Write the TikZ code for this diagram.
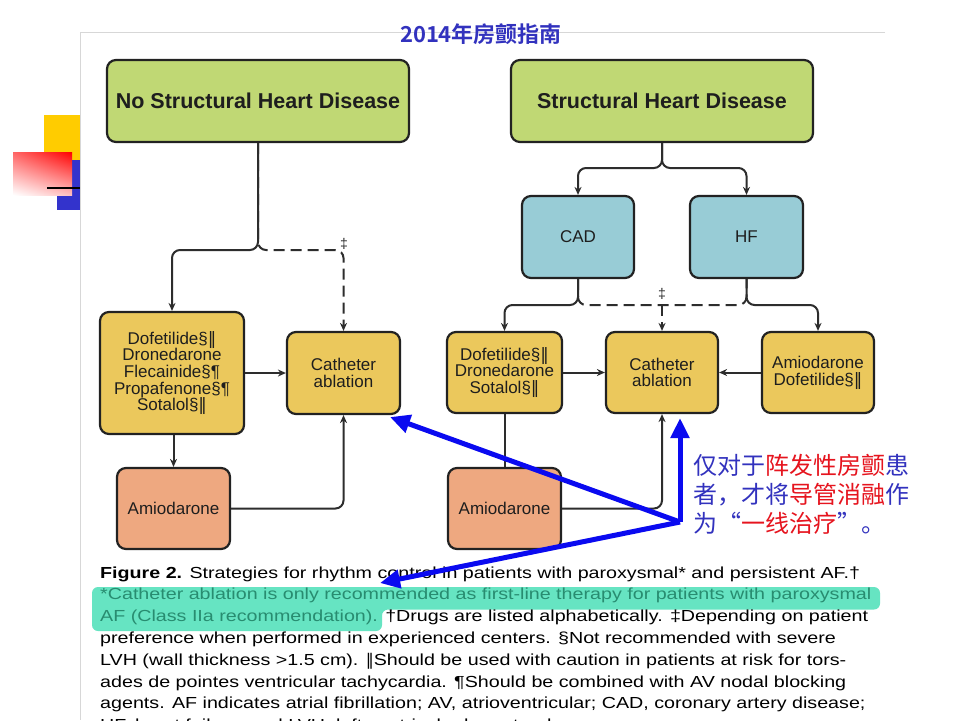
\documentclass[tikz,border=0pt]{standalone}
\usepackage{fontspec}
\setmainfont{Liberation Sans}
\newfontfamily\cjk{Noto Sans CJK SC}[BoldFont={Noto Sans CJK SC Bold}]
\newfontfamily\capfont{Liberation Sans}[FakeStretch=1.23]
\newfontfamily\dv{DejaVu Sans}
\usetikzlibrary{arrows.meta,shadings}
\definecolor{hdgreen}{RGB}{192,216,116}
\definecolor{cyanbox}{RGB}{152,204,214}
\definecolor{yelbox}{RGB}{235,200,92}
\definecolor{salbox}{RGB}{238,168,128}
\definecolor{boxline}{RGB}{34,34,34}
\definecolor{connc}{RGB}{45,45,45}
\definecolor{textdark}{RGB}{30,30,30}
\definecolor{titleblue}{RGB}{50,50,190}
\definecolor{cnred}{RGB}{230,20,30}
\definecolor{arrblue}{RGB}{10,10,240}
\definecolor{mint}{RGB}{102,228,194}
\definecolor{tealtext}{RGB}{40,140,112}
\definecolor{framegray}{RGB}{215,215,215}
\definecolor{decoyellow}{RGB}{255,204,0}
\definecolor{decoblue}{RGB}{51,51,204}
\newcommand{\dbar}{{\dv ‖}}
\begin{document}
\begin{tikzpicture}[x=1pt,y=-1pt,
  box/.style={draw=boxline, line width=2.2pt, rounded corners=9pt, align=center,
    inner sep=0pt, text=textdark, font=\fontsize{17}{16.7}\selectfont},
  hdbox/.style={box, fill=hdgreen, minimum width=302pt, minimum height=82pt,
    font=\bfseries\fontsize{21.5}{24}\selectfont},
  cybox/.style={box, fill=cyanbox, minimum width=112pt, minimum height=82pt},
  ybox/.style={box, fill=yelbox, minimum width=113pt, minimum height=81pt},
  sbox/.style={box, fill=salbox, minimum width=113pt, minimum height=81pt},
  conn/.style={draw=connc, line width=2pt, rounded corners=8pt},
  arr/.style={-{Stealth[length=8pt,width=7pt]}},
  dsh/.style={dash pattern=on 11pt off 6pt},
  bluearr/.style={draw=arrblue, line width=5pt, -{Triangle[length=20pt,width=18pt]}},
  capline/.style={anchor=base west, inner sep=0pt, text=black, font=\capfont\fontsize{16}{21}\selectfont},
  cnline/.style={anchor=base west, inner sep=0pt, text=titleblue, font=\cjk\fontsize{24}{28}\selectfont}
]
\useasboundingbox (0,0) rectangle (960,720);
\clip (0,0) rectangle (960,720);
\fill[white] (0,0) rectangle (960,720);
% decorative squares
\fill[decoyellow] (44,115) rectangle (80,160);
\fill[decoblue] (57,160) rectangle (80,210);
\shade[upper left=red!60, upper right=red, lower left=white, lower right=red!25] (13,152) rectangle (72,195);
\draw[black, line width=2pt] (47,188) -- (80,188);
% panel
\fill[white] (80,32) rectangle (960,720);
\draw[framegray, line width=1pt] (885,32) -- (80,32) -- (80,720);
% title
\node[anchor=base, inner sep=0pt, text=titleblue, font=\cjk\bfseries\fontsize{22}{24}\selectfont] (title) at (481,42) {2014年房颤指南};
% boxes
\node[hdbox] (nshd) at (258,101) {No Structural Heart Disease};
\node[hdbox] (shd) at (662,101) {Structural Heart Disease};
\node[cybox] (cad) at (578,237) {CAD};
\node[cybox, minimum width=113pt] (hf) at (746.5,237) {HF};
\node[ybox, minimum width=144pt, minimum height=122pt] (dof1) at (172,373) {Dofetilide§\dbar\\Dronedarone\\Flecainide§¶\\Propafenone§¶\\Sotalol§\dbar};
\node[ybox, minimum height=82pt] (cath1) at (343.5,373) {Catheter\\ablation};
\node[sbox] (amio1) at (173.5,508.5) {Amiodarone};
\node[ybox, minimum width=115pt] (dof2) at (504.5,372.5) {Dofetilide§\dbar\\Dronedarone\\Sotalol§\dbar};
\node[ybox, minimum width=112pt] (cath2) at (662,372.5) {Catheter\\ablation};
\node[ybox, minimum width=112pt] (amdof) at (818,372.5) {Amiodarone\\Dofetilide§\dbar};
\node[sbox] (amio2) at (504.5,508.5) {Amiodarone};
% left connectors
\coordinate (lj) at (258,250);
\draw[conn, dsh, arr] (nshd.south) |- (cath1.north |- lj) -- (cath1.north);
\draw[conn, arr] (nshd.south) |- (dof1.north |- lj) -- (dof1.north);
\node[fill=white, inner sep=1pt, font=\fontsize{14}{14}\selectfont, text=connc] (dag1) at (344,244) {‡};
\draw[conn, arr] (dof1.east |- cath1.west) -- (cath1.west);
\draw[conn, arr] (amio1.north |- dof1.south) -- (amio1.north);
\draw[conn, arr] (amio1.east) -| (cath1.south);
% right connectors
\coordinate (sj) at (662,168);
\coordinate (cj) at (578,305);
\draw[conn, arr] (shd.south) |- (cad.north |- sj) -- (cad.north);
\draw[conn, arr] (shd.south) |- (hf.north |- sj) -- (hf.north);
\draw[conn, dsh] (cad.south) |- (hf.south |- cj) -- (hf.south);
\draw[conn, arr] (cad.south) |- (dof2.north |- cj) -- (dof2.north);
\draw[conn, arr] (hf.south) |- (amdof.north |- cj) -- (amdof.north);
\draw[conn, dsh, arr] (cath2.north |- cj) -- (cath2.north);
\node[fill=white, inner sep=1pt, font=\fontsize{14}{14}\selectfont, text=connc] (dag2) at (662,294) {‡};
\draw[conn, arr] (dof2.east) -- (cath2.west);
\draw[conn, arr] (amdof.west) -- (cath2.east);
\draw[conn] (dof2.south) -- (amio2.north);
\draw[conn, arr] (amio2.east) -| (cath2.south);
% caption highlight
\fill[mint, rounded corners=6pt] (92,587) -- (880,587) -- (880,609.5) -- (382,609.5) -- (382,631) -- (92,631) -- cycle;
% caption
\node[capline] (c1) at (100,578) {\textbf{Figure 2.} Strategies for rhythm control in patients with paroxysmal* and persistent AF.†};
\node[capline, text=tealtext] (c2) at (100,599.8) {*Catheter ablation is only recommended as first-line therapy for patients with paroxysmal};
\node[capline] (c3) at (100,621.6) {{\color{tealtext}AF (Class IIa recommendation).} †Drugs are listed alphabetically. ‡Depending on patient};
\node[capline] (c4) at (100,643.4) {preference when performed in experienced centers. §Not recommended with severe};
\node[capline] (c5) at (100,665.2) {LVH (wall thickness >1.5 cm). \dbar Should be used with caution in patients at risk for tors-};
\node[capline] (c6) at (100,687) {ades de pointes ventricular tachycardia. ¶Should be combined with AV nodal blocking};
\node[capline] (c7) at (100,708.8) {agents. AF indicates atrial fibrillation; AV, atrioventricular; CAD, coronary artery disease;};
\node[capline] (c8) at (100,730.6) {HF, heart failure; and LVH, left ventricular hypertrophy.};
% chinese note
\node[cnline] (n1) at (693,474) {仅对于{\color{cnred}阵发性房颤}患};
\node[cnline] (n2) at (693,503) {者，才将{\color{cnred}导管消融}作};
\node[cnline] (n3) at (693,532) {为“{\color{cnred}一线治疗}”。};
% blue arrows
\coordinate (o) at (680,522);
\coordinate (t1) at (390,417);
\coordinate (t2) at (680,418);
\coordinate (t3) at (380,583);
\draw[bluearr] (o) -- (t1);
\draw[bluearr] (o) -- (t2);
\draw[bluearr] (o) -- (t3);
\end{tikzpicture}
\end{document}
